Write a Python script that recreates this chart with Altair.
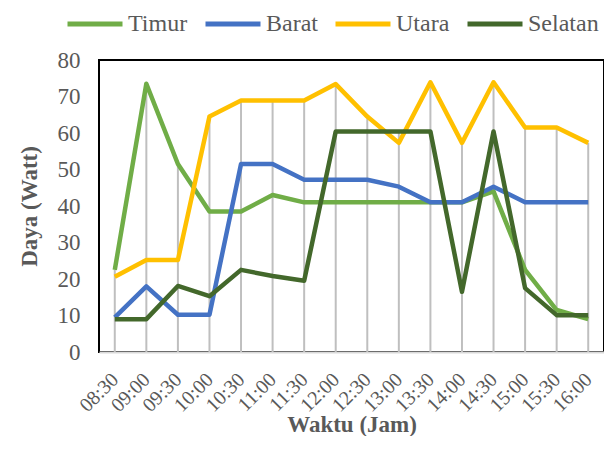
import altair as alt
import pandas as pd

times = ["08:30", "09:00", "09:30", "10:00", "10:30", "11:00", "11:30", "12:00",
         "12:30", "13:00", "13:30", "14:00", "14:30", "15:00", "15:30", "16:00"]
timur = [22.5, 73.5, 51.5, 38.5, 38.5, 43.0, 41.0, 41.0, 41.0, 41.0, 41.0, 41.0, 44.0, 22.5, 11.5, 9.0]
barat = [9.5, 18.0, 10.2, 10.2, 51.5, 51.5, 47.2, 47.2, 47.2, 45.3, 41.0, 41.0, 45.3, 41.0, 41.0, 41.0]
utara = [20.6, 25.2, 25.2, 64.5, 68.9, 68.9, 68.9, 73.4, 64.5, 57.3, 73.9, 57.3, 73.9, 61.5, 61.5, 57.3]
selatan = [9.0, 9.0, 18.1, 15.3, 22.5, 20.8, 19.5, 60.4, 60.4, 60.4, 60.4, 16.5, 60.4, 17.5, 10.1, 10.1]

series_names = ["Timur", "Barat", "Utara", "Selatan"]
series_colors = ["#70AD47", "#4472C4", "#FFC000", "#43682B"]
series_values = [timur, barat, utara, selatan]

rows = []
for name, vals in zip(series_names, series_values):
    for t, v in zip(times, vals):
        rows.append({"Waktu": t, "Seri": name, "Daya": v})
df = pd.DataFrame(rows)

drop = pd.DataFrame({"Waktu": times,
                     "lo": [0] * len(times),
                     "hi": [max(a, b, c, d) for a, b, c, d in zip(timur, barat, utara, selatan)]})

FONT = "Liberation Serif"
GRAY_TXT = "#595959"

x_axis = alt.Axis(title="Waktu (Jam)", labelAngle=-45, labelAlign="right",
                  labelBaseline="top", labelPadding=17, labelOffset=-7,
                  labelFontSize=20, labelFont=FONT, labelColor=GRAY_TXT,
                  labelOverlap=False,
                  ticks=False, grid=False, domainColor="#D9D9D9", domainWidth=2,
                  titleFont=FONT, titleFontSize=23, titleFontWeight="bold",
                  titleColor=GRAY_TXT, titleY=72, titleBaseline="middle")
y_axis = alt.Axis(title="Daya (Watt)", values=list(range(0, 81, 10)), tickCount=9,
                  labelPadding=19, labelFontSize=23, labelFont=FONT,
                  labelColor=GRAY_TXT, labelOverlap=False, labelFlush=False,
                  ticks=False, grid=False, domain=False,
                  titleFont=FONT, titleFontSize=23, titleFontWeight="bold",
                  titleColor=GRAY_TXT, titleX=-70, titleY=146,
                  titleBaseline="middle", titleAlign="center")
x_scale = alt.Scale(type="point", padding=0.5)
y_scale = alt.Scale(domain=[0, 80], nice=False)

rules = alt.Chart(drop).mark_rule(color="#BFBFBF", strokeWidth=2).encode(
    x=alt.X("Waktu:O", sort=times, scale=x_scale, axis=x_axis),
    y=alt.Y("lo:Q", scale=y_scale, axis=y_axis),
    y2="hi:Q",
)

lines = alt.Chart(df).mark_line(strokeWidth=4.5, strokeJoin="round").encode(
    x=alt.X("Waktu:O", sort=times, scale=x_scale, axis=x_axis),
    y=alt.Y("Daya:Q", scale=y_scale, axis=y_axis),
    color=alt.Color("Seri:N",
                    scale=alt.Scale(domain=series_names, range=series_colors),
                    legend=alt.Legend(title=None, orient="none", direction="horizontal",
                                      legendX=-34, legendY=-66,
                                      symbolType="stroke", symbolSize=3025,
                                      symbolStrokeWidth=5, labelOffset=3,
                                      columnPadding=7, labelFont=FONT,
                                      labelFontSize=24, labelColor=GRAY_TXT)),
)

chart = alt.layer(rules, lines).properties(
    width=505, height=292,
    autosize=alt.AutoSizeParams(type="none"),
    padding={"left": 91, "top": 52, "right": 0, "bottom": 84},
).configure_view(stroke="black", strokeWidth=2)

chart.save("out.html", embed_options={"renderer": "svg", "actions": False})
